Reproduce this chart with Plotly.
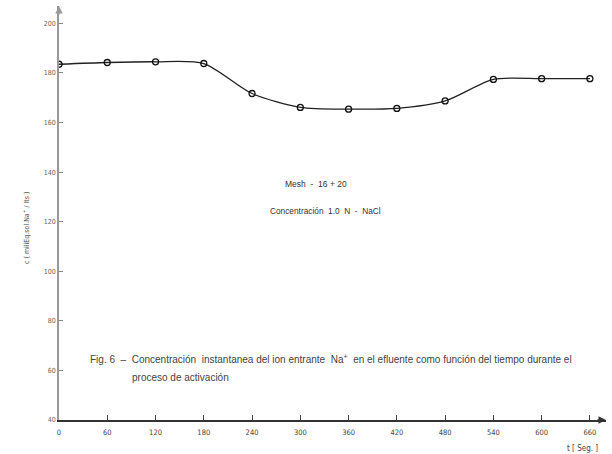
import plotly.graph_objects as go

t_seg = [0, 60, 120, 180, 240, 300, 360, 420, 480, 540, 600, 660]
conc = [183.5, 184.2, 184.5, 183.8, 171.7, 166.1, 165.4, 165.7, 168.7, 177.4, 177.7, 177.7]

x_ticks = [0, 60, 120, 180, 240, 300, 360, 420, 480, 540, 600, 660]
y_ticks = [40, 60, 80, 100, 120, 140, 160, 180, 200]

FONT = "Liberation Sans Narrow, Arial Narrow, DejaVu Sans Condensed, sans-serif"
FONT2 = "Liberation Sans, Arial, sans-serif"

fig = go.Figure()
fig.add_trace(go.Scatter(
    x=t_seg, y=conc, mode="lines+markers",
    line=dict(color="#222222", width=1.3, shape="spline", smoothing=0.75),
    marker=dict(symbol="circle-open", size=6, color="#111111", line=dict(width=1.3)),
    showlegend=False, hoverinfo="skip"))

fig.update_layout(
    width=612, height=454,
    margin=dict(l=59, r=6, t=6, b=34),
    paper_bgcolor="white", plot_bgcolor="white",
    font=dict(family=FONT, size=8, color="#444444"),
    xaxis=dict(range=[0, 680], tickvals=x_ticks, ticktext=[str(v) for v in x_ticks],
               automargin=False, ticklabelstandoff=4,
               showgrid=False, zeroline=False, showline=True, linecolor="#333333", linewidth=1.5,
               ticks="inside", ticklen=5, tickcolor="#444444", tickwidth=1,
               tickfont=dict(size=7.5, color="#444444")),
    yaxis=dict(range=[40, 207], tickvals=y_ticks, ticktext=[str(v) for v in y_ticks],
               automargin=False,
               showgrid=False, zeroline=False, showline=True, linecolor="#999999", linewidth=1.8,
               ticks="inside", ticklen=4, tickcolor="#888888", tickwidth=1,
               tickfont=dict(size=7, color="#666666")),
)

anns = [
    dict(x=0, y=1.0, xref="x", yref="paper", ax=0, ay=10, showarrow=True, arrowhead=2,
         arrowsize=1, arrowwidth=1.5, arrowcolor="#999999", text=""),
    dict(x=1.0, y=40, xref="paper", yref="y", ax=-10, ay=0, showarrow=True, arrowhead=2,
         arrowsize=1, arrowwidth=1.5, arrowcolor="#333333", text=""),
    dict(x=283, y=184, xref="paper", yref="paper", showarrow=False, xanchor="left", yanchor="middle",
         text="Mesh  -  16 + 20", font=dict(family=FONT2, size=8.5, color="#333333")),
    dict(x=268, y=211, xref="paper", yref="paper", showarrow=False, xanchor="left", yanchor="middle",
         text="Concentración  1.0  N  -  NaCl", font=dict(family=FONT2, size=8.3, color="#333333")),
    dict(x=88, y=359, xref="paper", yref="paper", showarrow=False, xanchor="left", yanchor="middle",
         text="Fig. 6  \u2013  Concentración  instantanea del ion entrante  Na<sup>+</sup>  en el efluente como función del tiempo durante el",
         font=dict(family=FONT2, size=10, color="#444444")),
    dict(x=130, y=377, xref="paper", yref="paper", showarrow=False, xanchor="left", yanchor="middle",
         text="proceso de activación", font=dict(family=FONT2, size=10, color="#444444")),
    dict(x=600, y=448, xref="paper", yref="paper", showarrow=False, xanchor="right", yanchor="middle",
         text="t [ Seg. ]", font=dict(size=8, color="#444444")),
    dict(x=26, y=228, xref="paper", yref="paper", showarrow=False, textangle=-90,
         xanchor="center", yanchor="middle",
         text="c ( miliEq.sol.Na<sup>+</sup> / lts )", font=dict(size=7, color="#555555")),
]
# convert pixel-positioned paper annotations
for a in anns:
    if a.get("xref") == "paper" and a["x"] > 1.5:
        a["x"] = (a["x"] - 59) / (612 - 59 - 6)
    if a.get("yref") == "paper" and a["y"] > 1.5:
        a["y"] = 1 - (a["y"] - 6) / (454 - 6 - 34)
fig.update_layout(annotations=anns)

fig.write_html("out.html", config={"displayModeBar": False},
               post_script="document.body.style.margin='0';")
